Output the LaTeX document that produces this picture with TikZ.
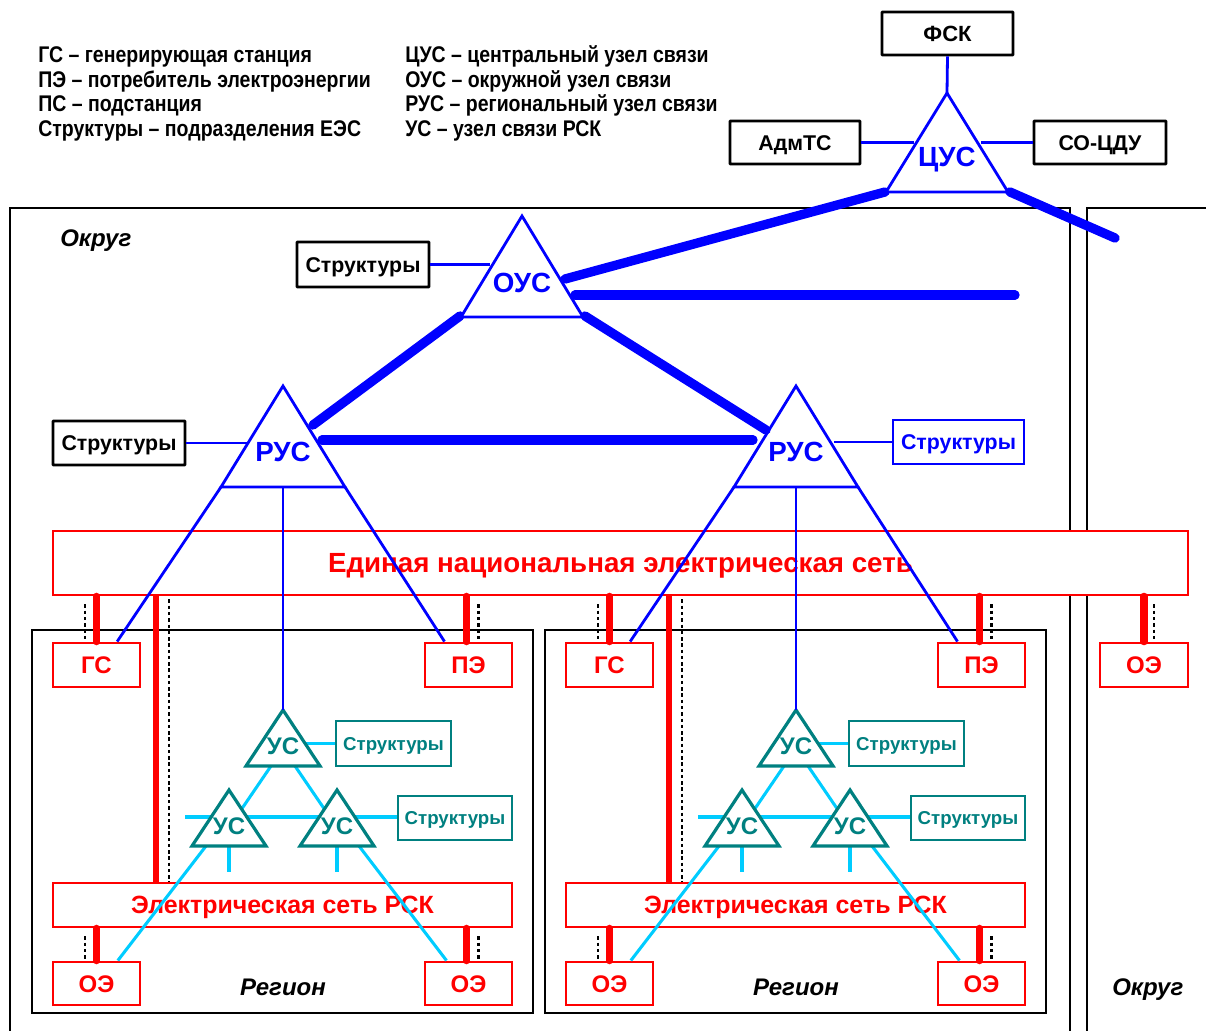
\documentclass[tikz,border=0pt]{standalone}
\usepackage{fontspec}
\setmainfont{Liberation Sans}
\newfontfamily\narf[FakeStretch=0.86]{Liberation Sans}
\newcommand\fsz[1]{\fontsize{#1pt}{#1pt}\selectfont}
\definecolor{tealc}{RGB}{0,128,128}
\definecolor{cyanc}{RGB}{0,204,255}
\definecolor{blu}{RGB}{0,0,255}
\definecolor{rd}{RGB}{255,0,0}
\tikzset{
  sz/.style 2 args={minimum width={#1*0.75pt},minimum height={#2*0.75pt},inner sep=0pt},
  fnt/.style={font=\bfseries\fsz{#1},text height={#1*0.716pt},text depth=0pt,inner sep=0pt},
  kbox/.style={draw=black,line width=2.2pt,fill=white,fnt=16,rounded corners=0.6pt},
  bbox/.style={draw=blu,line width=2.2pt,fill=white,text=blu,fnt=16},
  tbox/.style={draw=tealc,line width=2pt,fill=white,text=tealc,fnt=14},
  rbox/.style={draw=rd,line width=2.2pt,fill=white,text=rd,fnt=18},
  okr/.style={draw=black,line width=1.2pt},
  regbox/.style={draw=black,line width=1.1pt},
  thinb/.style={draw=blu,line width=2.1pt},
  thickb/.style={draw=blu,line width=7pt,line cap=round},
  tri/.style={draw=blu,line width=2.1pt,fill=white,line join=miter},
  ustri/.style={draw=tealc,line width=2.4pt,fill=white,line join=miter},
  cyl/.style={draw=cyanc,line width=2.3pt},
  rthick/.style={draw=rd,line width=5.6pt,line cap=round},
  rlong/.style={draw=rd,line width=3.8pt},
  dotl/.style={draw=black,line width=2.1pt,dash pattern=on 2.6pt off 2.1pt},
  trilab/.style={fnt=20.8,text=blu},
  uslab/.style={fnt=18,text=tealc},
  leg/.style={anchor=base west,inner sep=0pt,font=\narf\bfseries\fsz{17}},
  itl/.style={font=\bfseries\itshape\fsz{18},text height=12.9pt,text depth=0pt,inner sep=0pt},
}
\begin{document}
\begin{tikzpicture}[x=0.75pt,y=-0.75pt]
\useasboundingbox (0,0) rectangle (1206,1031);
% legend
\node[leg] (l1) at (38,63) {ГС – генерирующая станция};
\node[leg] (l2) at (38,88) {ПЭ – потребитель электроэнергии};
\node[leg] (l3) at (38,112) {ПС – подстанция};
\node[leg] (l4) at (38,137) {Структуры – подразделения ЕЭС};
\node[leg] (r1) at (405,63) {ЦУС – центральный узел связи};
\node[leg] (r2) at (405,88) {ОУС – окружной узел связи};
\node[leg] (r3) at (405,112) {РУС – региональный узел связи};
\node[leg] (r4) at (405,137) {УС – узел связи РСК};
% okrug frames
\draw[okr] (10,1031) -- (10,208) -- (1070,208) -- (1070,1031);
\draw[okr] (1087,1031) -- (1087,208) -- (1206,208);
\node[itl,anchor=west] (okrL) at (60,238) {Округ};
\node[itl,anchor=west] (okrR) at (1112,987) {Округ};
% ENES
\node[rbox,sz={1135}{64},fnt=20.8] (enes) at (620.5,563) {Единая национальная электрическая сеть};
\node[rbox,sz={88}{44}] (oeX) at (1144,665) {ОЭ};
\draw[rthick] (oeX.north |- enes.south) -- (oeX.north);
\draw[dotl] ([xshift=7.5pt]oeX.north |- enes.south) ++(0,8) -- ([xshift=7.5pt]oeX.north);
% regions
\foreach \dx/\s in {0/L,513/R}{
\begin{scope}[shift={(\dx,0)}]
  \draw[regbox] (32,630) rectangle (533,1013);
  \node[itl] (reg\s) at (283,987) {Регион};
  \node[rbox,sz={87}{44}] (gs\s) at (96.5,665) {ГС};
  \node[rbox,sz={87}{44}] (pe\s) at (468.5,665) {ПЭ};
  \node[rbox,sz={459}{44},fnt=18.7] (rsk\s) at (282.5,905) {Электрическая сеть РСК};
  \node[rbox,sz={87}{43}] (oea\s) at (96.5,983.5) {ОЭ};
  \node[rbox,sz={87}{43}] (oeb\s) at (468.5,983.5) {ОЭ};
  \node[tbox,sz={115}{45}] (sta\s) at (393.5,743.5) {Структуры};
  \node[tbox,sz={114}{44}] (stb\s) at (455,818) {Структуры};
  % red connectors
  \draw[rthick] (gs\s.north |- enes.south) -- (gs\s.north);
  \draw[dotl] ([xshift=-8.6pt]gs\s.north |- enes.south) ++(0,8) -- ([xshift=-8.6pt]gs\s.north);
  \draw[rthick] ([xshift=-1.5pt]pe\s.north |- enes.south) -- ([xshift=-1.5pt]pe\s.north);
  \draw[dotl] ([xshift=7.5pt]pe\s.north |- enes.south) ++(0,8) -- ([xshift=7.5pt]pe\s.north);
  \coordinate (lr\s) at (156,0);
  \coordinate (ld\s) at (169,0);
  \draw[rlong] (lr\s |- enes.south) -- (lr\s |- rsk\s.north);
  \draw[dotl] (ld\s |- enes.south) ++(0,3) -- (ld\s |- rsk\s.north);
  \draw[rthick] (oea\s.north |- rsk\s.south) -- (oea\s.north);
  \draw[dotl] ([xshift=-8.6pt]oea\s.north |- rsk\s.south) ++(0,8) -- ([xshift=-8.6pt]oea\s.north);
  \draw[rthick] ([xshift=-1.5pt]oeb\s.north |- rsk\s.south) -- ([xshift=-1.5pt]oeb\s.north);
  \draw[dotl] ([xshift=7.5pt]oeb\s.north |- rsk\s.south) ++(0,8) -- ([xshift=7.5pt]oeb\s.north);
  % US cluster
  \coordinate (ua\s) at (283,710);
  \coordinate (ub\s) at (229,790);
  \coordinate (uc\s) at (337,790);
  \coordinate (hl\s) at (185,817);
  \draw[cyl] (hl\s) -- (stb\s.west |- hl\s);
  \draw[cyl] (271,766) -- (241,810);
  \draw[cyl] (295,766) -- (325,810);
  \draw[cyl] (229,846) -- (229,872);
  \draw[cyl] (337,846) -- (337,872);
  \draw[cyl] (206,846) -- ([xshift=16pt]oea\s.north);
  \draw[cyl] (359,846) -- ([xshift=-16.5pt]oeb\s.north);
  \draw[cyl] (306,743.5) -- (sta\s.west);
  \draw[ustri] (ua\s) -- ++(37,56) -- ++(-74,0) -- cycle;
  \draw[ustri] (ub\s) -- ++(37,56) -- ++(-74,0) -- cycle;
  \draw[ustri] (uc\s) -- ++(37,56) -- ++(-74,0) -- cycle;
  \node[uslab] (usa\s) at (283,746) {УС};
  \node[uslab] (usb\s) at (229,826) {УС};
  \node[uslab] (usc\s) at (337,826) {УС};
  % RUS
  \coordinate (rap\s) at (283,386);
  \coordinate (rbl\s) at (221,487);
  \coordinate (rbr\s) at (345,487);
  \coordinate (rbc\s) at (283,487);
  \draw[thinb] (rbc\s) -- (ua\s);
  \draw[thinb] (rbl\s) -- ([xshift=15.5pt]gs\s.north);
  \draw[thinb] (rbr\s) -- ([xshift=-18pt]pe\s.north);
  \draw[tri] (rap\s) -- (rbr\s) -- (rbl\s) -- cycle;
  \node[trilab] (rus\s) at (283,452) {РУС};
\end{scope}
}
% Structures for RUS
\node[kbox,sz={132}{44}] (strL) at (119,443) {Структуры};
\node[bbox,sz={131}{44}] (strR) at (958.5,442) {Структуры};
\draw[thinb] (strL.east) -- (248,443);
\draw[thinb] (834,442) -- (strR.west);
% OUS
\coordinate (oap) at (522,216);
\node[kbox,sz={132}{45}] (strO) at (363,264.5) {Структуры};
\draw[thinb] (strO.east) -- (490,264.5);
\draw[thickb] (460,316) -- (313,425);
\draw[thickb] (585,316) -- (766,430);
\draw[thickb] (322,440) -- (753,440);
\draw[thickb] (575,295) -- (1015,295);
\draw[thickb] (565,279) -- (885,192);
\draw[thickb] (1010,192) -- (1115,238);
\draw[tri] (oap) -- ++(61,101) -- ++(-122,0) -- cycle;
\node[trilab] (ous) at (522,283) {ОУС};
% CUS
\node[kbox,sz={131}{43},fnt=16.5] (fsk) at (947.5,33.5) {ФСК};
\node[kbox,sz={130}{43}] (adm) at (795,142.5) {АдмТС};
\node[kbox,sz={132}{43}] (socdu) at (1100,142.5) {СО-ЦДУ};
\coordinate (cap) at (947,93);
\draw[thinb] (fsk.south) -- (cap);
\draw[thinb] (adm.east) -- (914,142.5);
\draw[thinb] (981,142.5) -- (socdu.west);
\draw[tri] (cap) -- ++(61,99) -- ++(-122,0) -- cycle;
\node[trilab] (cus) at (947,157) {ЦУС};
\end{tikzpicture}
\end{document}
